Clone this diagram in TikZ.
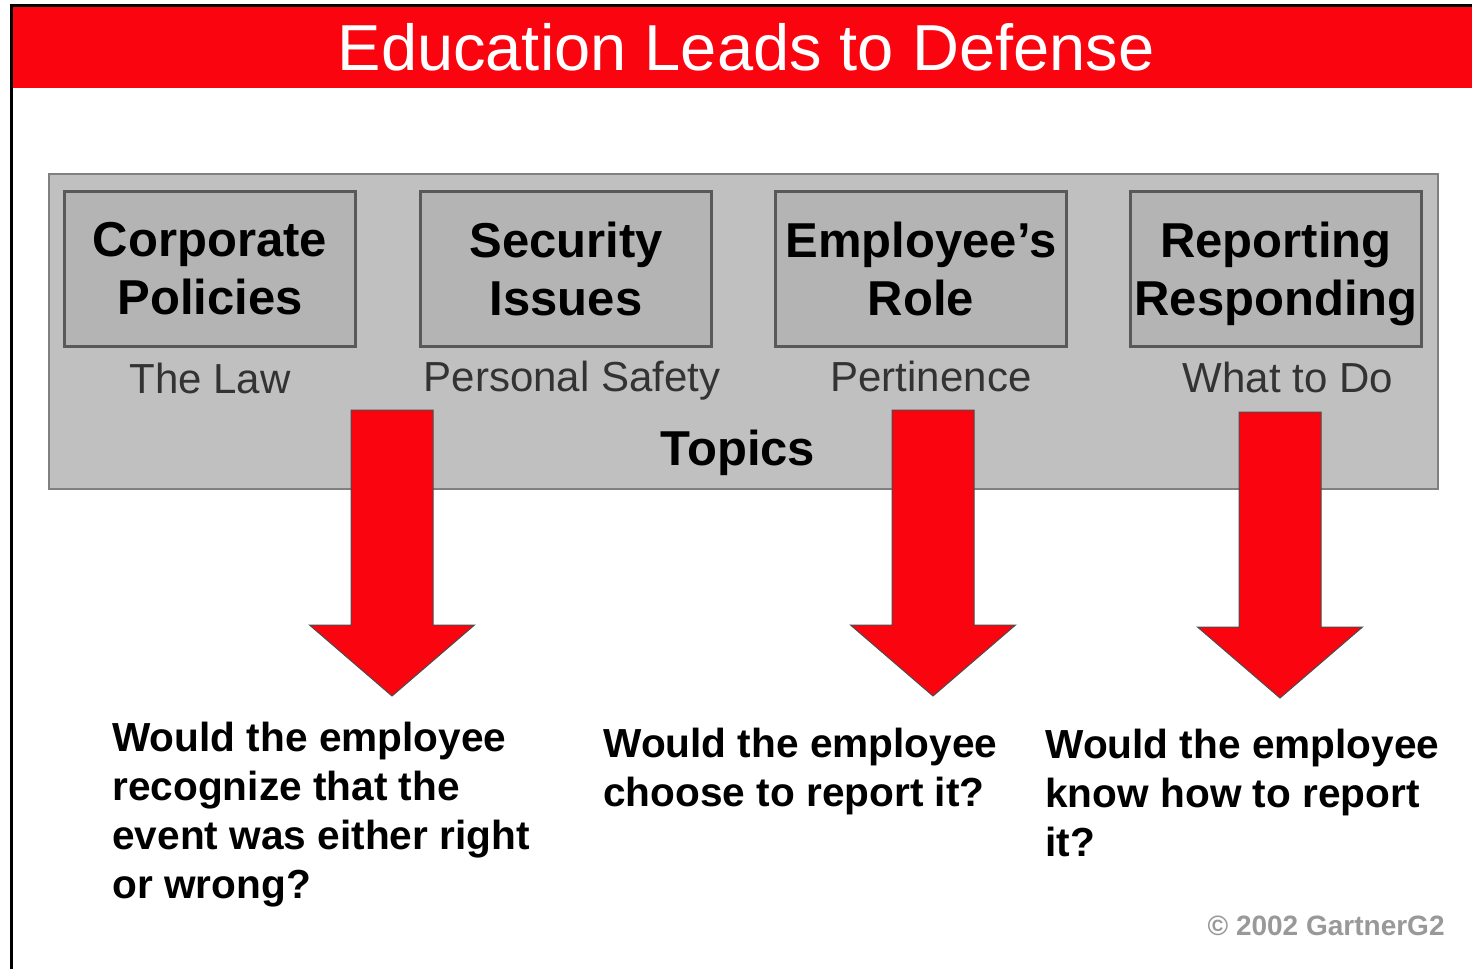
\documentclass[tikz,border=0pt]{standalone}
\usepackage{fontspec}
\setmainfont{Liberation Sans}
\usetikzlibrary{positioning}

\definecolor{slidered}{RGB}{250,5,15}
\definecolor{panelgray}{RGB}{192,192,192}
\definecolor{topicgray}{RGB}{180,180,180}

\begin{document}
\begin{tikzpicture}[
    x=0.5pt, y=-0.5pt,
    topic/.style={draw=black!65,line width=1.2pt,fill=topicgray,inner sep=0pt,
      minimum width=145.5pt,minimum height=77.5pt,align=center,
      font=\fontsize{24.5}{29}\selectfont\bfseries},
    subtopic/.style={anchor=base,text=black!80,font=\fontsize{21}{25}\selectfont},
    question/.style={anchor=north west,inner sep=0pt,align=left,font=\fontsize{20.3}{24.5}\selectfont\bfseries},
    bigarrow/.style={fill=slidered,draw=black!70,line width=0.5pt}
    ]

    \useasboundingbox[fill=white] (0,0) rectangle (1472,969);

    % title bar:
    \fill[slidered] (12,7) rectangle (1472,88);
    \draw[line width=1.5pt] (11,969) -- (11,5) -- (1472,5);
    \node(title) at (746,70) [anchor=base,text=white,font=\fontsize{32.5}{36}\selectfont] {Education Leads to Defense};

    % panel with topics:
    \node(panel) at (743.5,331.5) [draw=black!50,line width=1pt,fill=panelgray,
      minimum width=694.5pt,minimum height=157.5pt] {};

    \foreach \x/\txt [count=\i] in {210/{Corporate\\Policies},566/{Security\\Issues},
        921/{Employee’s\\Role},1276/{Reporting\\\smash{Responding}}}
      \node(t\i) at (\x,269) [topic] {\txt};

    \foreach \x/\y/\txt [count=\i] in {210/393/The Law,572/391/Personal Safety,
        931/391/Pertinence,1288/392/What to Do}
      \node(s\i) at (\x,\y) [subtopic] {\txt};

    \node(topics) at (738,465) [anchor=base,font=\fontsize{24.5}{29}\selectfont\bfseries] {Topics};

    % arrows:
    \foreach \x/\d in {392/0,933/0,1280/2}
      \draw[bigarrow] (\x-41,410+\d) -- (\x+41,410+\d) -- (\x+41,625+\d) -- (\x+82.5,625+\d)
        -- (\x,696+\d) -- (\x-82.5,625+\d) -- (\x-41,625+\d) -- cycle;

    % questions:
    \node(q1) at (112,722) [question] {Would the employee\\recognize that the\\event was either right\\or wrong?};
    \node(q2) at (603,728) [question] {Would the employee\\choose to report it?};
    \node(q3) at (1045,729) [question] {Would the employee\\know how to report\\it?};

    \node(copy) at (1445,935) [anchor=base east,inner sep=0pt,text=black!40,font=\fontsize{14}{16}\selectfont\bfseries] {© 2002 GartnerG2};

  \end{tikzpicture}
\end{document}
